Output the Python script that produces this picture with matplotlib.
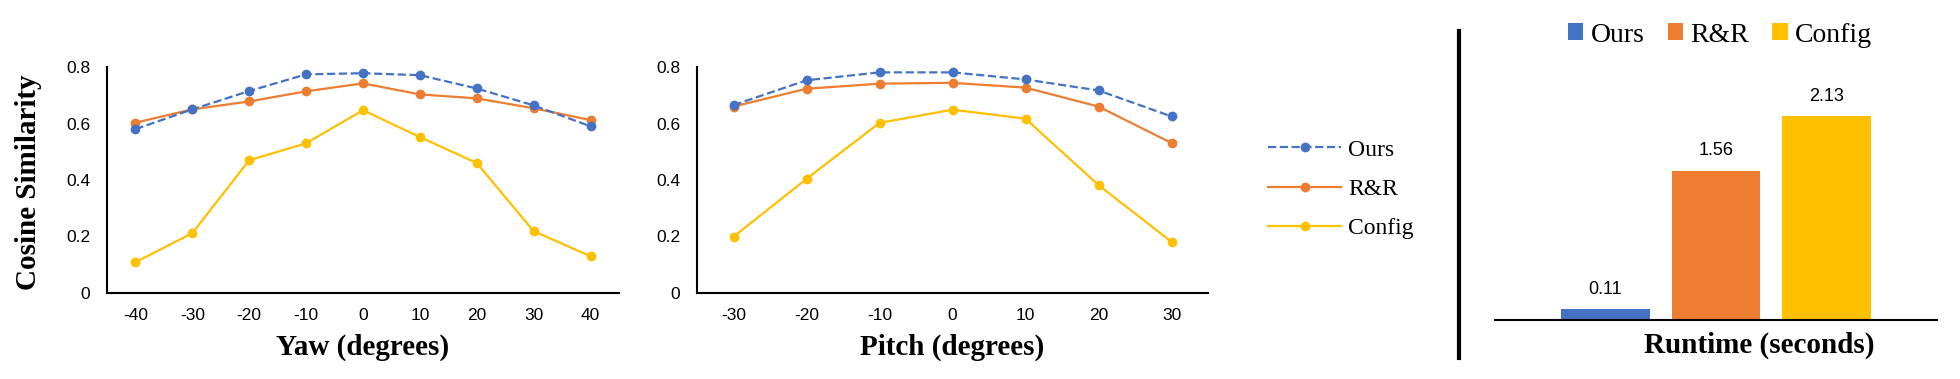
import matplotlib
matplotlib.use('Agg')
import matplotlib.pyplot as plt
from matplotlib.lines import Line2D

# data
yaw = [-40, -30, -20, -10, 0, 10, 20, 30, 40]
yaw_ours = [0.58, 0.65, 0.715, 0.774, 0.778, 0.771, 0.724, 0.664, 0.59]
yaw_rr = [0.603, 0.65, 0.678, 0.714, 0.742, 0.703, 0.689, 0.654, 0.612]
yaw_config = [0.109, 0.212, 0.47, 0.53, 0.647, 0.552, 0.46, 0.219, 0.13]

pitch = [-30, -20, -10, 0, 10, 20, 30]
pitch_ours = [0.665, 0.753, 0.781, 0.781, 0.756, 0.717, 0.625]
pitch_rr = [0.66, 0.723, 0.741, 0.744, 0.727, 0.66, 0.531]
pitch_config = [0.199, 0.404, 0.602, 0.649, 0.617, 0.382, 0.181]

methods = ['Ours', 'R&R', 'Config']
runtime = [0.11, 1.56, 2.13]

BLUE = '#4472C4'
ORANGE = '#ED7D31'
GOLD = '#FFC000'
colors = [BLUE, ORANGE, GOLD]

TICK_FONT = ['Liberation Sans', 'DejaVu Sans']
SERIF = ['Liberation Serif', 'DejaVu Serif']

W, H = 1960, 379
fig = plt.figure(figsize=(W / 100, H / 100), dpi=100)


def px_axes(x0, x1, ytop, ybot):
    return fig.add_axes([x0 / W, 1 - ybot / H, (x1 - x0) / W, (ybot - ytop) / H])


def line_panel(ax, x, ours, rr, config, xlabel, ylabel=None):
    ax.plot(x, ours, color=BLUE, ls='--', lw=1.6, marker='o', ms=6, label='Ours', zorder=3)
    ax.plot(x, rr, color=ORANGE, lw=1.6, marker='o', ms=6, label='R&R', zorder=2)
    ax.plot(x, config, color=GOLD, lw=1.6, marker='o', ms=6, label='Config', zorder=2)
    ax.set_xlim(x[0] - 5, x[-1] + 5)
    ax.set_ylim(0, 0.8)
    ax.set_xticks(x)
    ax.set_xticklabels([str(v) for v in x])
    ax.set_yticks([0, 0.2, 0.4, 0.6, 0.8])
    ax.set_yticklabels(['0', '0.2', '0.4', '0.6', '0.8'])
    for s in ['top', 'right']:
        ax.spines[s].set_visible(False)
    for s in ['left', 'bottom']:
        ax.spines[s].set_linewidth(1.5)
    ax.tick_params(axis='x', length=0, pad=11)
    ax.tick_params(axis='y', length=0, pad=12)
    for lab in ax.get_xticklabels() + ax.get_yticklabels():
        lab.set_family(TICK_FONT)
        lab.set_fontsize(12.5)
    ax.set_xlabel(xlabel, family=SERIF, fontsize=21, fontweight='bold', va='center')
    ax.xaxis.set_label_coords(0.5, -54 / 226)
    if ylabel:
        ax.set_ylabel(ylabel, family=SERIF, fontsize=21, fontweight='bold', va='center')
        ax.yaxis.set_label_coords(-78 / 512, 0.49)


ax1 = px_axes(107, 619, 67, 293)
line_panel(ax1, yaw, yaw_ours, yaw_rr, yaw_config, 'Yaw (degrees)', 'Cosine Similarity')

ax2 = px_axes(697, 1208, 67, 293)
line_panel(ax2, pitch, pitch_ours, pitch_rr, pitch_config, 'Pitch (degrees)')

handles, labels = ax1.get_legend_handles_labels()
fig.legend(handles, labels, loc='center left', bbox_to_anchor=(1268 / W, 1 - 189 / H),
           frameon=False, prop={'family': SERIF, 'size': 17}, handlelength=3.1,
           handletextpad=0.3, labelspacing=0.75, borderpad=0, borderaxespad=0)

# separator line
fig.add_artist(Line2D([1459 / W, 1459 / W], [1 - 31 / H, 1 - 358 / H],
                      color='black', lw=3, transform=fig.transFigure))

# runtime bars
ax3 = px_axes(1495, 1937, 57, 320)
bars = ax3.bar(range(len(methods)), runtime, width=0.8, color=colors, label=methods)
ax3.set_xlim(-1, 3)
ax3.set_ylim(0, 2.75)
for s in ['top', 'right', 'left']:
    ax3.spines[s].set_visible(False)
ax3.spines['bottom'].set_linewidth(1.5)
ax3.set_xticks([])
ax3.set_yticks([])
for b, v in zip(bars, runtime):
    ax3.text(b.get_x() + b.get_width() / 2, v + 0.21, f'{v:.2f}', ha='center', va='center',
             family=TICK_FONT, fontsize=13)
ax3.set_xlabel('Runtime (seconds)', family=SERIF, fontsize=21, fontweight='bold', va='center')
ax3.xaxis.set_label_coords((1759 - 1495) / 442, -25 / 263)
ax3.legend(bars, methods, loc='center', bbox_to_anchor=((1720 - 1495) / 442, (320 - 35) / 263),
           ncol=3, frameon=False, prop={'family': SERIF, 'size': 20}, handlelength=0.55,
           handleheight=0.55, handletextpad=0.25, columnspacing=0.85, borderpad=0)

fig.savefig('out.png', dpi=100)
